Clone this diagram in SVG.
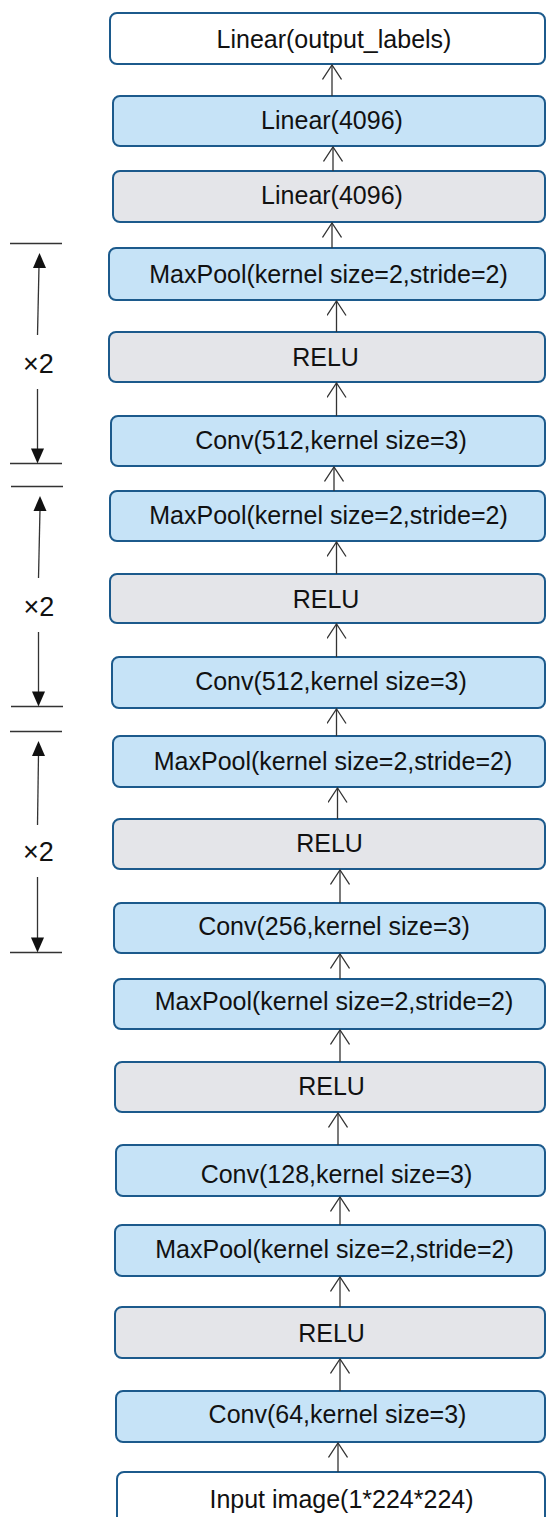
<svg xmlns="http://www.w3.org/2000/svg" width="546" height="1517" viewBox="0 0 546 1517">
  <style>
    .box { stroke: #1c5a8c; stroke-width: 2; }
    .blue { fill: #c6e3f7; }
    .grey { fill: #e4e5e9; }
    .white { fill: #ffffff; }
    .lbl { font-family: "Liberation Sans", Arial, sans-serif; font-size: 25px; fill: #111; text-anchor: middle; }
    .rep { font-family: "Liberation Sans", Arial, sans-serif; font-size: 27px; fill: #111; text-anchor: middle; }
    .flow { stroke: #333; stroke-width: 1.3; fill: none; }
    .tick { stroke: #333; stroke-width: 1.3; }
    .dim { stroke: #333; stroke-width: 1.3; }
  </style>
  <defs>
    <!-- open V head, drawn along +x so orient="auto" follows the line -->
    <marker id="openHead" viewBox="0 0 16 20" refX="15" refY="10" markerWidth="16" markerHeight="20" markerUnits="userSpaceOnUse" orient="auto">
      <path d="M0.5,0.5 L15,10 L0.5,19.5" fill="none" stroke="#333" stroke-width="1.3"/>
    </marker>
  </defs>
  <rect width="546" height="1517" fill="#ffffff"/>

  <!-- layer stack, output at top -->
  <g id="n-linear-out"><rect class="box white" x="110" y="13" width="435" height="51" rx="7"/><text class="lbl" x="334" y="48">Linear(output_labels)</text></g>
  <g id="n-linear2"><rect class="box blue" x="113" y="96" width="432" height="50" rx="7"/><text class="lbl" x="332" y="129">Linear(4096)</text></g>
  <g id="n-linear1"><rect class="box grey" x="113" y="171" width="432" height="51" rx="7"/><text class="lbl" x="332" y="204">Linear(4096)</text></g>
  <g id="n-pool5"><rect class="box blue" x="109" y="248" width="436" height="52" rx="7"/><text class="lbl" x="328.5" y="283">MaxPool(kernel size=2,stride=2)</text></g>
  <g id="n-relu5"><rect class="box grey" x="109" y="332" width="436" height="50" rx="7"/><text class="lbl" x="325.5" y="366">RELU</text></g>
  <g id="n-conv5"><rect class="box blue" x="111" y="416" width="434" height="50" rx="7"/><text class="lbl" x="331" y="448.5">Conv(512,kernel size=3)</text></g>
  <g id="n-pool4"><rect class="box blue" x="110" y="491" width="435" height="50" rx="7"/><text class="lbl" x="328.5" y="523.5">MaxPool(kernel size=2,stride=2)</text></g>
  <g id="n-relu4"><rect class="box grey" x="110" y="574" width="435" height="49" rx="7"/><text class="lbl" x="326" y="607.5">RELU</text></g>
  <g id="n-conv4"><rect class="box blue" x="112" y="657" width="433" height="51" rx="7"/><text class="lbl" x="331" y="690">Conv(512,kernel size=3)</text></g>
  <g id="n-pool3"><rect class="box blue" x="113" y="736" width="432" height="51" rx="7"/><text class="lbl" x="333" y="770">MaxPool(kernel size=2,stride=2)</text></g>
  <g id="n-relu3"><rect class="box grey" x="113" y="819" width="432" height="50" rx="7"/><text class="lbl" x="329.5" y="852">RELU</text></g>
  <g id="n-conv3"><rect class="box blue" x="114" y="903" width="431" height="50" rx="7"/><text class="lbl" x="334" y="935">Conv(256,kernel size=3)</text></g>
  <g id="n-pool2"><rect class="box blue" x="114" y="979" width="431" height="50" rx="7"/><text class="lbl" x="334" y="1010">MaxPool(kernel size=2,stride=2)</text></g>
  <g id="n-relu2"><rect class="box grey" x="115" y="1062" width="430" height="50" rx="7"/><text class="lbl" x="331.5" y="1095">RELU</text></g>
  <g id="n-conv2"><rect class="box blue" x="116" y="1145" width="429" height="51" rx="7"/><text class="lbl" x="336.5" y="1183">Conv(128,kernel size=3)</text></g>
  <g id="n-pool1"><rect class="box blue" x="115" y="1225" width="430" height="51" rx="7"/><text class="lbl" x="334.5" y="1258">MaxPool(kernel size=2,stride=2)</text></g>
  <g id="n-relu1"><rect class="box grey" x="115" y="1307" width="430" height="51" rx="7"/><text class="lbl" x="331.5" y="1341.5">RELU</text></g>
  <g id="n-conv1"><rect class="box blue" x="116" y="1391" width="429" height="51" rx="7"/><text class="lbl" x="337.5" y="1423">Conv(64,kernel size=3)</text></g>
  <g id="n-input"><rect class="box white" x="117" y="1472" width="428" height="53" rx="7"/><text class="lbl" x="341.5" y="1508">Input image(1*224*224)</text></g>

  <!-- upward data-flow connectors -->
  <g id="connectors">
    <path class="flow" marker-end="url(#openHead)" d="M332,96 V65"/>
    <path class="flow" marker-end="url(#openHead)" d="M333,171 V147"/>
    <path class="flow" marker-end="url(#openHead)" d="M332,248 V223"/>
    <path class="flow" marker-end="url(#openHead)" d="M336.5,332 V301"/>
    <path class="flow" marker-end="url(#openHead)" d="M336.5,416 V383"/>
    <path class="flow" marker-end="url(#openHead)" d="M334,491 V467"/>
    <path class="flow" marker-end="url(#openHead)" d="M336.5,574 V542"/>
    <path class="flow" marker-end="url(#openHead)" d="M336.5,657 V624"/>
    <path class="flow" marker-end="url(#openHead)" d="M336.5,736 V709"/>
    <path class="flow" marker-end="url(#openHead)" d="M337.5,819 V788"/>
    <path class="flow" marker-end="url(#openHead)" d="M340,903 V870"/>
    <path class="flow" marker-end="url(#openHead)" d="M340,979 V954"/>
    <path class="flow" marker-end="url(#openHead)" d="M340,1062 V1030"/>
    <path class="flow" marker-end="url(#openHead)" d="M338,1145 V1113"/>
    <path class="flow" marker-end="url(#openHead)" d="M340,1225 V1197"/>
    <path class="flow" marker-end="url(#openHead)" d="M340,1307 V1277"/>
    <path class="flow" marker-end="url(#openHead)" d="M340,1391 V1359"/>
    <path class="flow" marker-end="url(#openHead)" d="M338,1472 V1443"/>
  </g>

  <!-- repeat brackets (×2) -->
  <g id="repeat-1">
    <line class="tick" x1="10" y1="243.5" x2="62" y2="243.5"/>
    <line class="tick" x1="10" y1="463.5" x2="62" y2="463.5"/>
    <line class="dim" x1="37.5" y1="335" x2="39" y2="266"/>
    <polygon points="39.5,253 33,268 46,268" fill="#111"/>
    <line class="dim" x1="37.5" y1="389" x2="37.5" y2="450"/>
    <polygon points="37.5,463.5 31,448.5 44,448.5" fill="#111"/>
    <text class="rep" x="38.5" y="372.5">×2</text>
  </g>
  <g id="repeat-2">
    <line class="tick" x1="11" y1="486.5" x2="63" y2="486.5"/>
    <line class="tick" x1="11" y1="706.5" x2="63" y2="706.5"/>
    <line class="dim" x1="38.5" y1="578" x2="40" y2="509"/>
    <polygon points="40,496 33.5,511 46.5,511" fill="#111"/>
    <line class="dim" x1="38.5" y1="632" x2="38.5" y2="693"/>
    <polygon points="38.5,706.5 32,691.5 45,691.5" fill="#111"/>
    <text class="rep" x="39" y="615.5">×2</text>
  </g>
  <g id="repeat-3">
    <line class="tick" x1="10" y1="731.5" x2="62" y2="731.5"/>
    <line class="tick" x1="10" y1="952.5" x2="62" y2="952.5"/>
    <line class="dim" x1="37.5" y1="825" x2="38.5" y2="754"/>
    <polygon points="38.5,741 32,756 45,756" fill="#111"/>
    <line class="dim" x1="37.5" y1="877" x2="37.5" y2="939"/>
    <polygon points="37.5,952.5 31,937.5 44,937.5" fill="#111"/>
    <text class="rep" x="38.5" y="861">×2</text>
  </g>
</svg>
